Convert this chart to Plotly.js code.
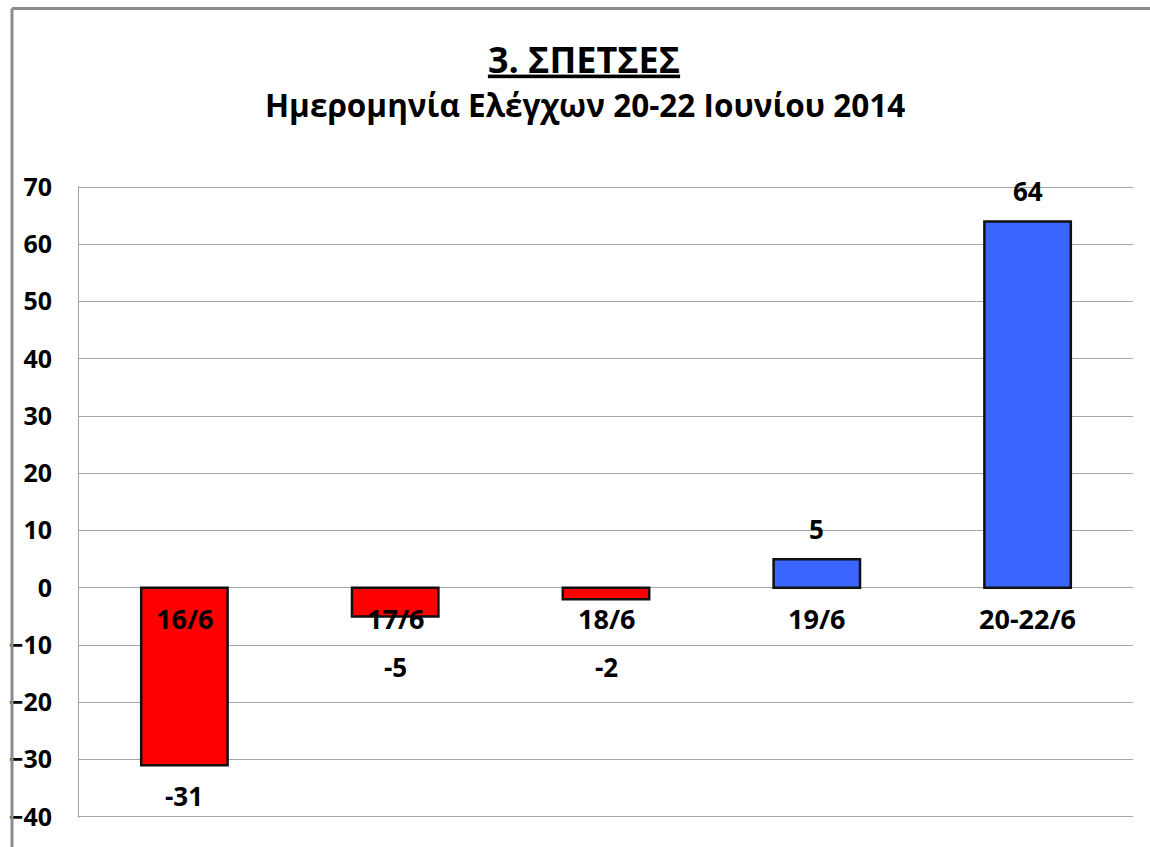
<!DOCTYPE html>
<html>
<head>
<meta charset="utf-8">
<script src="https://cdn.plot.ly/plotly-3.0.1.min.js"></script>
<style>
  html, body { margin: 0; padding: 0; background: #fff; }
  #chart { width: 1150px; height: 847px; }
</style>
</head>
<body>
<div id="chart"></div>
<script>
// ---- data ----
const categories = ["16/6", "17/6", "18/6", "19/6", "20-22/6"];
const values = [-31, -5, -2, 5, 64];
const yTickValues = [-40, -30, -20, -10, 0, 10, 20, 30, 40, 50, 60, 70];
const titleText = "3. ΣΠΕΤΣΕΣ";
const subtitleText = "Ημερομηνία Ελέγχων 20-22 Ιουνίου 2014";

// ---- styles ----
const FONT = "Open Sans, Noto Sans, sans-serif";
const RED = "#FF0000";
const BLUE = "#3A66FF";
const GRID = "#A6A6A6";

const barColors = values.map(v => v < 0 ? RED : BLUE);

const trace = {
  type: "bar",
  x: categories,
  y: values,
  marker: { color: barColors, line: { color: "#111111", width: 2.5 } },
  hoverinfo: "x+y"
};

// category labels sit just under the zero line
const catAnnotations = categories.map(c => ({
  x: c, y: 0, xref: "x", yref: "y",
  text: "<b>" + c + "</b>",
  showarrow: false, yanchor: "middle", yshift: -31,
  font: { family: FONT, size: 27, color: "#000" }
}));

// value labels: above positives, below negatives (clear of category label)
const valAnnotations = values.map((v, i) => {
  let yv = v, ys;
  if (v >= 0) { ys = 30; }
  else if (v > -8) { yv = 0; ys = -79; }
  else { ys = -31; }
  return {
    x: categories[i], y: yv, xref: "x", yref: "y",
    text: "<b>" + v + "</b>",
    showarrow: false, yanchor: "middle", yshift: ys,
    font: { family: FONT, size: 26, color: "#000" }
  };
});

// plot area: x 79..1133 px, y 187..817 px
const subtitleAnn = {
  xref: "paper", yref: "paper",
  x: (585 - 79) / 1054, y: (817 - 106) / 630,
  text: "<b>" + subtitleText + "</b>", showarrow: false,
  xanchor: "center", yanchor: "middle",
  font: { family: FONT, size: 31.5, color: "#000" }
};

const layout = {
  width: 1150, height: 847,
  margin: { l: 79, r: 17, t: 186, b: 29, pad: 0 },
  paper_bgcolor: "#fff", plot_bgcolor: "#fff",
  showlegend: false,
  bargap: 0.59,
  font: { family: FONT, color: "#000" },
  title: {
    text: "<b><u>" + titleText + "</u></b>",
    x: 584 / 1150, xanchor: "center",
    y: 1 - 60 / 847, yanchor: "middle",
    font: { family: FONT, size: 36, color: "#000" }
  },
  xaxis: {
    type: "category",
    showticklabels: false,
    showgrid: false, zeroline: false, showline: false,
    ticks: "", fixedrange: true
  },
  yaxis: {
    range: [-40.2, 70.2],
    tickvals: yTickValues,
    ticks: "",
    ticklabelstandoff: 21,
    tickfont: { family: FONT, size: 25, color: "#000", weight: "bold" },
    showgrid: true, gridcolor: GRID, gridwidth: 1,
    zeroline: true, zerolinecolor: GRID, zerolinewidth: 1,
    showline: true, linecolor: GRID, linewidth: 1,
    automargin: false, fixedrange: true
  },
  annotations: [subtitleAnn, ...catAnnotations, ...valAnnotations],
  shapes: [
    { type: "line", xref: "paper", yref: "paper",
      x0: (12 - 79) / 1054, x1: (12 - 79) / 1054,
      y0: (817 - 10) / 630, y1: (817 - 860) / 630,
      line: { color: "#8C8C8C", width: 3 } },
    { type: "line", xref: "paper", yref: "paper",
      x0: (12 - 79) / 1054, x1: (1160 - 79) / 1054,
      y0: (817 - 10) / 630, y1: (817 - 10) / 630,
      line: { color: "#8C8C8C", width: 3 } }
  ]
};

Plotly.newPlot("chart", [trace], layout, { displayModeBar: false, staticPlot: true });
</script>
</body>
</html>
